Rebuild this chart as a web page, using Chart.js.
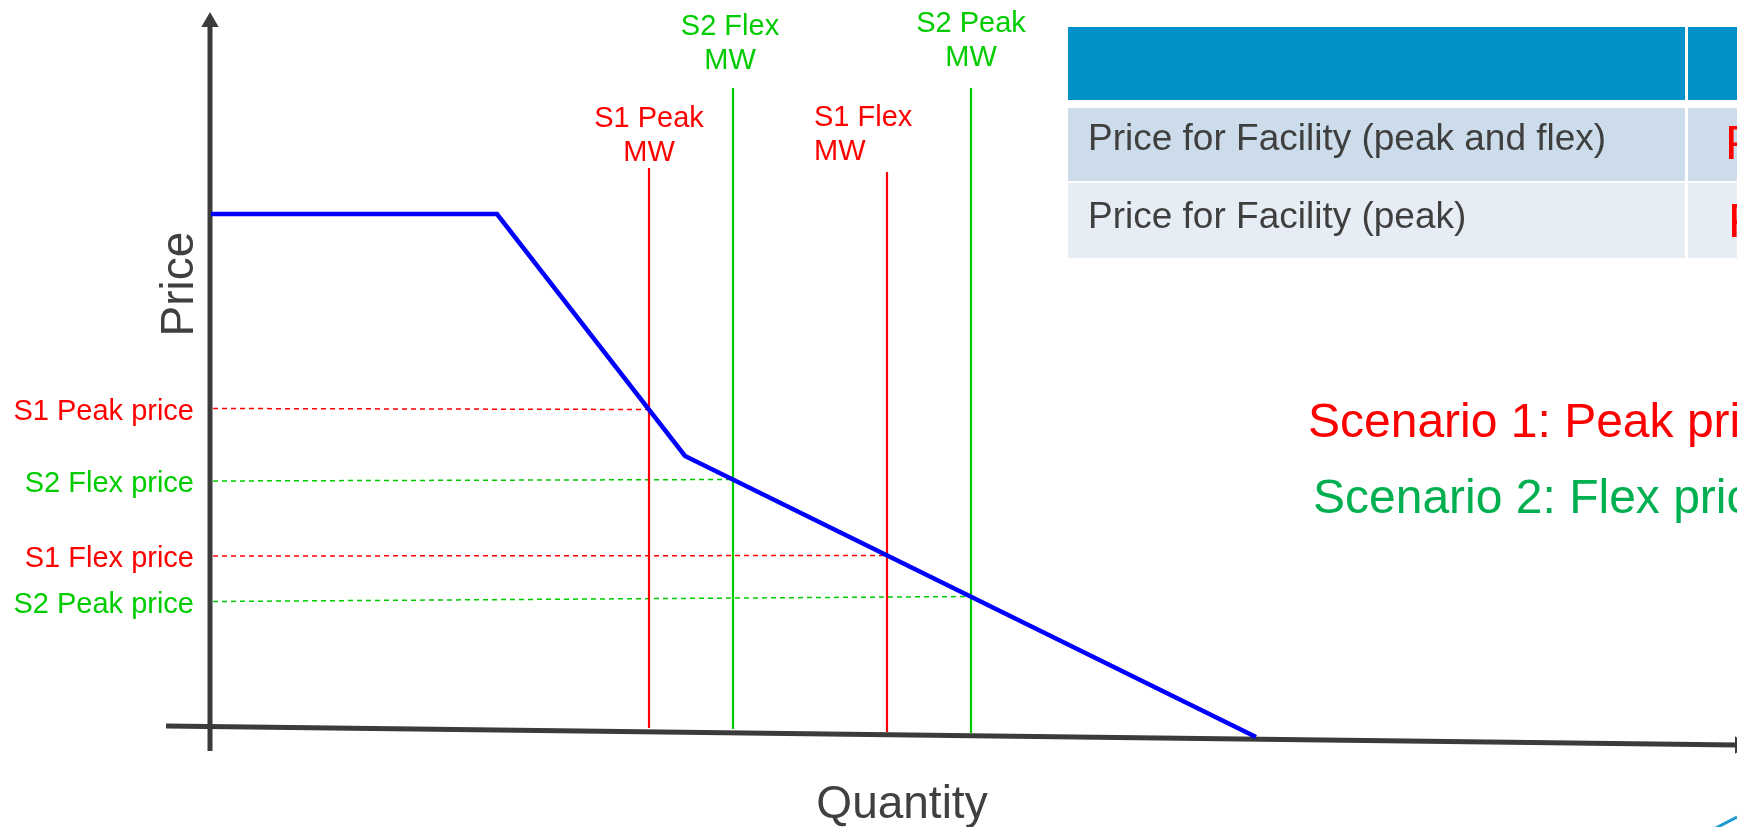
<!DOCTYPE html>
<html>
<head>
<meta charset="utf-8">
<script src="https://cdn.jsdelivr.net/npm/chart.js@4.4.1/dist/chart.umd.min.js"></script>
<style>
  html, body { margin: 0; padding: 0; background: #fff; overflow: hidden; }
  canvas { display: block; }
</style>
</head>
<body>
<canvas id="c" width="1737" height="827"></canvas>
<script>
// demand curve (quantity, price)
const curveQty = [0.2, 28.8, 47.6, 104.7];
const curvePrice = [102.6, 102.6, 54.2, -2.0];

// price levels read on the price axis, and where each dashed line meets its MW line
const priceLabels = ['S1 Peak price', 'S2 Flex price', 'S1 Flex price', 'S2 Peak price'];
const priceAtAxis = [63.7, 49.2, 34.2, 25.1];
const priceAtLine = [63.5, 49.5, 34.3, 26.1];

// MW quantities (vertical lines)
const mwLabels = [['S1 Peak', 'MW'], ['S2 Flex', 'MW'], ['S1 Flex', 'MW'], ['S2 Peak', 'MW']];
const mwQty = [44.0, 52.4, 67.8, 76.2];
const mwTop = [111.8, 127.8, 111.0, 127.8];
const mwBottom = [-0.2, -0.4, -1.0, -1.2];

// axes
const xAxisQty = [-4.3, 153.1];
const xAxisPrice = [0.2, -3.6];
const yAxisQty = [0.1, 0.1];
const yAxisPrice = [-4.8, 141.0];

// bit of a curve at the bottom right corner
const cornerQty = [150.4, 152.8];
const cornerPrice = [-20.5, -18.0];

const tableRows = ['Price for Facility (peak and flex)', 'Price for Facility (peak)'];
const tableValues = ['P', 'P'];
const scenarios = ['Scenario 1: Peak price', 'Scenario 2: Flex price'];

const RED = '#ff0000', GREEN = '#00cc00', AXIS = '#3b3b3b';
const seriesColors = [RED, GREEN, RED, GREEN];
const FONT = '"Liberation Sans", Arial, sans-serif';
// label placement for the MW captions (px)
const mwLayout = [
  { align: 'center', dx: 0, y: 127 },
  { align: 'center', dx: -3, y: 35 },
  { align: 'left', dx: -73, y: 126 },
  { align: 'center', dx: 0, y: 32 }
];

const pts = (xs, ys) => xs.map((v, i) => ({ x: v, y: ys[i] }));

const datasets = [
  { data: pts(curveQty, curvePrice), borderColor: '#0000ff', borderWidth: 4.5, borderJoinStyle: 'miter' },
  ...mwQty.map((q, i) => ({
    data: pts([q, q], [mwBottom[i], mwTop[i]]), borderColor: seriesColors[i], borderWidth: 2.2
  })),
  ...priceAtAxis.map((p, i) => ({
    data: pts([0.4, mwQty[i]], [p, priceAtLine[i]]), borderColor: seriesColors[i], borderWidth: 1.5, borderDash: [5, 4]
  })),
  {
    data: pts(yAxisQty, yAxisPrice), borderColor: AXIS, borderWidth: 5,
    pointRadius: [0, 10], pointStyle: 'triangle', pointBackgroundColor: AXIS, pointBorderWidth: 0
  },
  {
    data: pts(xAxisQty, xAxisPrice), borderColor: AXIS, borderWidth: 5, clip: false,
    pointRadius: [0, 10], pointStyle: 'triangle', pointRotation: 90, pointBackgroundColor: AXIS, pointBorderWidth: 0
  },
  { data: pts(cornerQty, cornerPrice), borderColor: '#1b9ad0', borderWidth: 3 }
].map(d => Object.assign({ showLine: true, fill: false, pointRadius: 0, borderCapStyle: 'butt' }, d));

const annotate = {
  id: 'annotate',
  afterDraw(chart) {
    const { ctx, scales: { x, y } } = chart;
    ctx.save();

    // table
    ctx.fillStyle = '#0391c9';
    ctx.fillRect(1068, 27, 617, 73);
    ctx.fillRect(1688, 27, 60, 73);
    ctx.fillStyle = '#ccdcea';
    ctx.fillRect(1068, 108, 617, 73);
    ctx.fillRect(1688, 108, 60, 73);
    ctx.fillStyle = '#e6edf5';
    ctx.fillRect(1068, 183, 617, 75);
    ctx.fillRect(1688, 183, 60, 75);
    ctx.textAlign = 'left';
    ctx.textBaseline = 'alphabetic';
    ctx.font = '37px ' + FONT;
    ctx.fillStyle = '#3f3f3f';
    ctx.fillText(tableRows[0], 1088, 150);
    ctx.fillText(tableRows[1], 1088, 228);
    ctx.font = '49px ' + FONT;
    ctx.fillStyle = RED;
    ctx.fillText(tableValues[0], 1725, 159);
    ctx.fillText(tableValues[1], 1728, 237);

    // scenarios
    ctx.font = '48px ' + FONT;
    ctx.fillStyle = RED;
    ctx.fillText(scenarios[0], 1308, 437);
    ctx.fillStyle = '#00b050';
    ctx.fillText(scenarios[1], 1313, 513);

    // axis titles
    ctx.font = '46px ' + FONT;
    ctx.fillStyle = '#404040';
    ctx.textAlign = 'center';
    ctx.fillText('Quantity', 902, 818);
    ctx.save();
    ctx.translate(193, 284);
    ctx.rotate(-Math.PI / 2);
    ctx.fillText('Price', 0, 0);
    ctx.restore();

    // price labels
    ctx.font = '29px ' + FONT;
    ctx.textAlign = 'right';
    priceLabels.forEach((t, i) => {
      ctx.fillStyle = seriesColors[i];
      ctx.fillText(t, 194, y.getPixelForValue(priceAtAxis[i]) + 11);
    });

    // MW labels
    mwLabels.forEach((lines, i) => {
      const l = mwLayout[i];
      ctx.fillStyle = seriesColors[i];
      ctx.textAlign = l.align;
      const px = x.getPixelForValue(mwQty[i]) + l.dx;
      lines.forEach((t, k) => ctx.fillText(t, px, l.y + k * 34));
    });

    ctx.restore();
  }
};

new Chart(document.getElementById('c'), {
  type: 'scatter',
  data: { datasets },
  options: {
    responsive: false,
    animation: false,
    layout: { padding: 0, autoPadding: false },
    scales: {
      x: { type: 'linear', display: false, min: -20.9, max: 152.8 },
      y: { type: 'linear', display: false, min: -20, max: 145.4 }
    },
    plugins: { legend: { display: false }, tooltip: { enabled: false } }
  },
  plugins: [annotate]
});
</script>
</body>
</html>
